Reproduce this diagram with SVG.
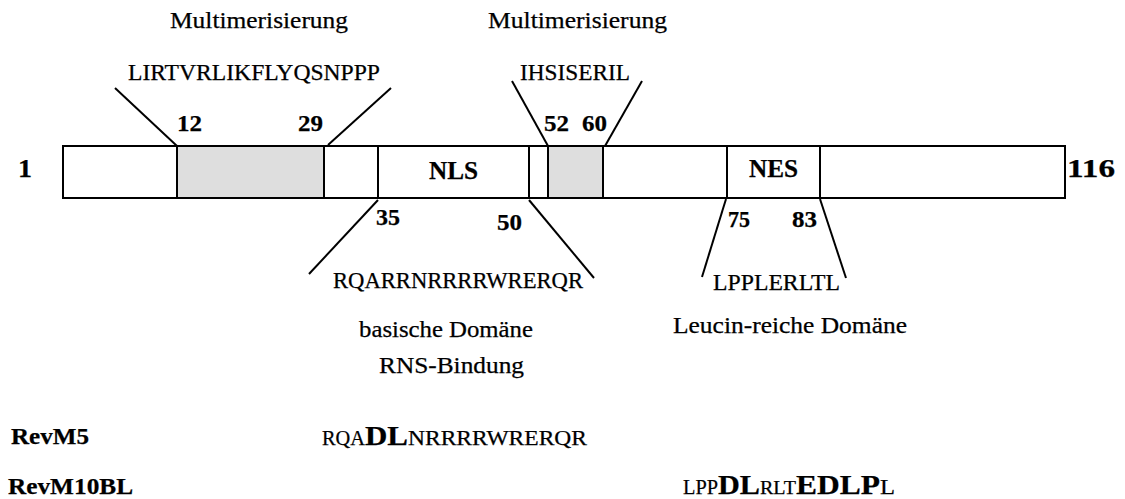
<svg xmlns="http://www.w3.org/2000/svg" width="1125" height="499" viewBox="0 0 1125 499">
  <style>
    text { font-family: "Liberation Serif", "Times New Roman", serif; fill: #000; stroke: #000; stroke-width: 0.25; }
    .r { font-size: 23px; }
    .b { font-size: 25px; font-weight: bold; }
    .bb { font-size: 24px; font-weight: bold; }
    .ln { stroke: #000; stroke-width: 2; fill: none; }
    .seg { stroke: #000; stroke-width: 2; fill: #fff; }
    .grey { stroke: #000; stroke-width: 2; fill: #dedede; }
  </style>

  <!-- protein bar, residues 1..116 -->
  <g id="bar">
    <rect class="seg" x="63" y="146" width="1002" height="52"/>
    <rect class="grey" x="177" y="146" width="147" height="52"/>
    <rect class="grey" x="548" y="146" width="55" height="52"/>
    <line class="ln" x1="378" y1="146" x2="378" y2="198"/>
    <line class="ln" x1="529" y1="146" x2="529" y2="198"/>
    <line class="ln" x1="727" y1="146" x2="727" y2="198"/>
    <line class="ln" x1="820" y1="146" x2="820" y2="198"/>
    <text class="b" x="18" y="177" textLength="14" lengthAdjust="spacingAndGlyphs">1</text>
    <text class="b" x="1067" y="177" textLength="48" lengthAdjust="spacingAndGlyphs">116</text>
    <text class="b" x="429" y="179" textLength="49" lengthAdjust="spacingAndGlyphs">NLS</text>
    <text class="b" x="749" y="177" textLength="49" lengthAdjust="spacingAndGlyphs">NES</text>
  </g>

  <!-- leader lines from domain boundaries to sequences -->
  <g id="connectors">
    <line class="ln" x1="115" y1="88" x2="177" y2="146"/>
    <line class="ln" x1="391" y1="88" x2="328" y2="145"/>
    <line class="ln" x1="512" y1="81" x2="548" y2="146"/>
    <line class="ln" x1="642" y1="81" x2="605" y2="146"/>
    <line class="ln" x1="378" y1="200" x2="309" y2="274"/>
    <line class="ln" x1="529" y1="200" x2="594" y2="278"/>
    <line class="ln" x1="726" y1="199" x2="702" y2="277"/>
    <line class="ln" x1="820" y1="199" x2="846" y2="278"/>
  </g>

  <!-- multimerisation domain 12-29 -->
  <g id="multi1">
    <text class="r" x="170" y="28" textLength="178" lengthAdjust="spacingAndGlyphs">Multimerisierung</text>
    <text class="r" x="128" y="80" textLength="252" lengthAdjust="spacingAndGlyphs">LIRTVRLIKFLYQSNPPP</text>
    <text class="bb" x="177" y="131" textLength="25" lengthAdjust="spacingAndGlyphs">12</text>
    <text class="bb" x="298" y="131" textLength="25" lengthAdjust="spacingAndGlyphs">29</text>
  </g>

  <!-- multimerisation domain 52-60 -->
  <g id="multi2">
    <text class="r" x="488" y="28" textLength="179" lengthAdjust="spacingAndGlyphs">Multimerisierung</text>
    <text class="r" x="520" y="80" textLength="110" lengthAdjust="spacingAndGlyphs">IHSISERIL</text>
    <text class="bb" x="544" y="131" textLength="25" lengthAdjust="spacingAndGlyphs">52</text>
    <text class="bb" x="582" y="131" textLength="25" lengthAdjust="spacingAndGlyphs">60</text>
  </g>

  <!-- basic domain / NLS 35-50 -->
  <g id="nls">
    <text class="bb" x="376" y="225" textLength="24" lengthAdjust="spacingAndGlyphs">35</text>
    <text class="bb" x="497" y="230" textLength="25" lengthAdjust="spacingAndGlyphs">50</text>
    <text class="r" x="333" y="288" textLength="250" lengthAdjust="spacingAndGlyphs">RQARRNRRRRWRERQR</text>
    <text class="r" x="359" y="337" textLength="174" lengthAdjust="spacingAndGlyphs">basische Domäne</text>
    <text class="r" x="379" y="373" textLength="145" lengthAdjust="spacingAndGlyphs">RNS-Bindung</text>
  </g>

  <!-- leucine-rich NES 75-83 -->
  <g id="nes">
    <text class="bb" x="728" y="227" textLength="22" lengthAdjust="spacingAndGlyphs">75</text>
    <text class="bb" x="792" y="227" textLength="25" lengthAdjust="spacingAndGlyphs">83</text>
    <text class="r" x="713" y="290" textLength="127" lengthAdjust="spacingAndGlyphs">LPPLERLTL</text>
    <text class="r" x="673" y="333" textLength="234" lengthAdjust="spacingAndGlyphs">Leucin-reiche Domäne</text>
  </g>

  <!-- mutant RevM5 -->
  <g id="revm5">
    <text class="bb" x="11" y="444" textLength="78" lengthAdjust="spacingAndGlyphs">RevM5</text>
    <text x="322" y="445" font-size="21" textLength="43" lengthAdjust="spacingAndGlyphs">RQA</text>
    <text x="365" y="445" font-size="28" font-weight="bold" textLength="43" lengthAdjust="spacingAndGlyphs">DL</text>
    <text x="408" y="445" font-size="21" textLength="179" lengthAdjust="spacingAndGlyphs">NRRRRWRERQR</text>
  </g>

  <!-- mutant RevM10BL -->
  <g id="revm10bl">
    <text class="bb" x="8" y="494" textLength="125" lengthAdjust="spacingAndGlyphs">RevM10BL</text>
    <text x="683" y="494" font-size="22" textLength="35" lengthAdjust="spacingAndGlyphs">LPP</text>
    <text x="718" y="494" font-size="27" font-weight="bold" textLength="42" lengthAdjust="spacingAndGlyphs">DL</text>
    <text x="760" y="494" font-size="19" textLength="36" lengthAdjust="spacingAndGlyphs">RLT</text>
    <text x="796" y="494" font-size="27" font-weight="bold" textLength="84" lengthAdjust="spacingAndGlyphs">EDLP</text>
    <text x="880" y="494" font-size="22" textLength="15" lengthAdjust="spacingAndGlyphs">L</text>
  </g>
</svg>
